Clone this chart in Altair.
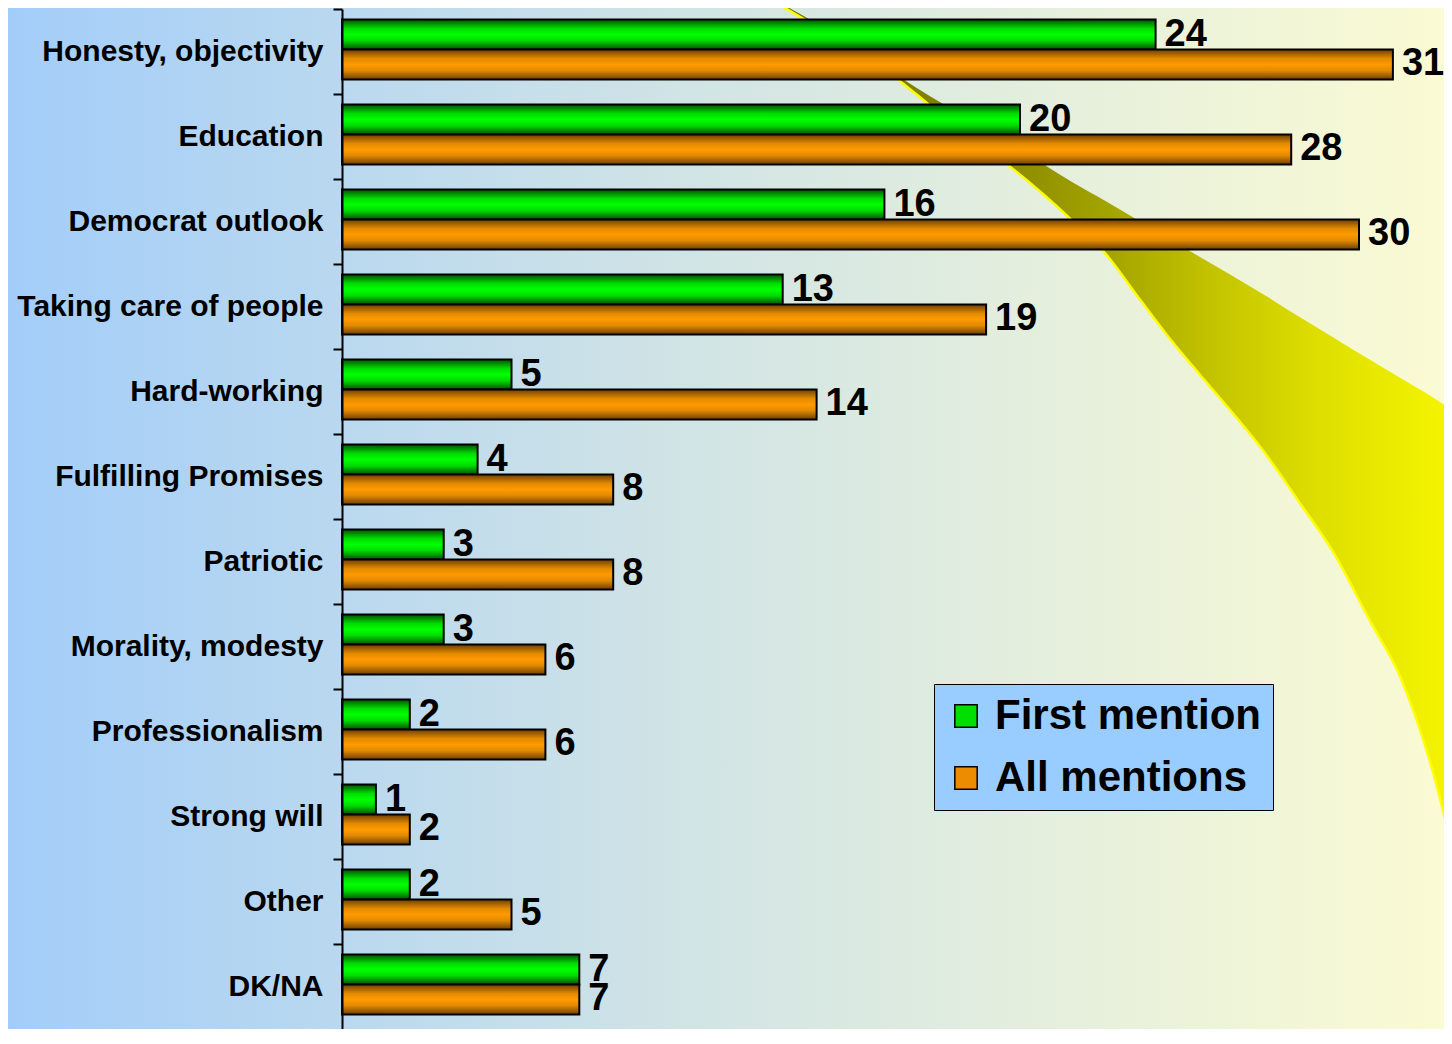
import altair as alt
import pandas as pd

# ---------------- data ----------------
categories = [
    "Honesty, objectivity", "Education", "Democrat outlook", "Taking care of people",
    "Hard-working", "Fulfilling Promises", "Patriotic", "Morality, modesty",
    "Professionalism", "Strong will", "Other", "DK/NA",
]
first_mention = [24, 20, 16, 13, 5, 4, 3, 3, 2, 1, 2, 7]
all_mentions = [31, 28, 30, 19, 14, 8, 8, 6, 6, 2, 5, 7]
series_names = ["First mention", "All mentions"]

# decorative swoosh outline (reference pixel space)
swoosh_x = [775, 810, 860, 900, 928, 970, 1012, 1045, 1072, 1105, 1140, 1167, 1200, 1267, 1300, 1333, 1370, 1400, 1433, 1452]
swoosh_top = [0, 20, 52, 78, 96, 121, 146, 167, 184, 203, 224, 240, 260, 300, 321, 341, 364, 382, 402, 415]
swoosh_bot = [2, 23, 55, 82, 105, 137, 170, 198, 223, 256, 303, 339, 379, 461, 509, 558, 628, 684, 781, 857]

rows = []
for c, f, a in zip(categories, first_mention, all_mentions):
    rows.append({"cat": c, "series": series_names[0], "value": f})
    rows.append({"cat": c, "series": series_names[1], "value": a})
df = pd.DataFrame(rows)
swdf = pd.DataFrame({"sx": swoosh_x, "stop": swoosh_top, "sbot": swoosh_bot})

# ---------------- layout ----------------
PAD_L, PAD_T = 334, 1
PW, PH = 1436 - PAD_L, 1020
XMAX = PW / 33.9
FONT = "Liberation Sans"


def vgrad(dark, mid, bright):
    return alt.LinearGradient(
        gradient="linear", x1=0, y1=0, x2=0, y2=1,
        stops=[
            alt.GradientStop(offset=0, color=dark),
            alt.GradientStop(offset=0.3, color=mid),
            alt.GradientStop(offset=0.5, color=bright),
            alt.GradientStop(offset=0.7, color=mid),
            alt.GradientStop(offset=1, color=dark),
        ],
    )


green_grad = vgrad("#004f00", "#00dc00", "#00ff00")
orange_grad = vgrad("#6e3e00", "#e28a00", "#ff9a00")

bg_grad = alt.LinearGradient(
    gradient="linear", x1=0, y1=0, x2=1, y2=0,
    stops=[
        alt.GradientStop(offset=0, color="#a3cdf9"),
        alt.GradientStop(offset=0.45, color="#cfe3e6"),
        alt.GradientStop(offset=1, color="#fbfbd3"),
    ],
)
sw_grad = alt.LinearGradient(
    gradient="linear", x1=0, y1=0, x2=1, y2=0,
    stops=[
        alt.GradientStop(offset=0, color="#6e6e00"),
        alt.GradientStop(offset=0.35, color="#8c8c00"),
        alt.GradientStop(offset=0.5, color="#a5a500"),
        alt.GradientStop(offset=0.65, color="#c4c400"),
        alt.GradientStop(offset=0.8, color="#dede00"),
        alt.GradientStop(offset=1, color="#f5f500"),
    ],
)

# ---------------- decoration ----------------
bg = alt.Chart(alt.Data(values=[{}])).mark_rect(color=bg_grad).encode(
    x=alt.value(-PAD_L), x2=alt.value(PW + 10), y=alt.value(-PAD_T - 1), y2=alt.value(PH + 10)
)
sx = alt.X("sx:Q", scale=alt.Scale(domain=[342, 342 + PW], nice=False, zero=False), axis=None)
sy_scale = alt.Scale(domain=[9, 1041], reverse=True, nice=False, zero=False)
sw_area = alt.Chart(swdf).mark_area(color=sw_grad, interpolate="monotone").encode(
    x=sx, y=alt.Y("stop:Q", scale=sy_scale, axis=None), y2="sbot:Q"
)
sw_line = alt.Chart(swdf).mark_line(color="#ffff00", strokeWidth=2.5, interpolate="monotone").encode(
    x=sx, y=alt.Y("sbot:Q", scale=sy_scale, axis=None)
)
deco = alt.layer(bg, sw_area, sw_line)

# ---------------- main chart ----------------
y_enc = alt.Y(
    "cat:N", sort=categories, title=None,
    scale=alt.Scale(paddingInner=0, paddingOuter=0),
    axis=alt.Axis(
        orient="left", zindex=1,
        bandPosition=0, tickSize=9, tickWidth=2, tickColor="black",
        domainColor="black", domainWidth=2, labelFont=FONT, labelFontSize=30,
        labelFontWeight="bold", labelColor="black", labelPadding=10, labelLimit=400, grid=False,
    ),
)
x_enc = alt.X("value:Q", scale=alt.Scale(domain=[0, XMAX], nice=False, zero=True), axis=None)
yoff = alt.YOffset(
    "series:N", sort=series_names,
    scale=alt.Scale(domain=series_names, paddingInner=0, paddingOuter=0.4167, align=0.42),
)

bars_g = alt.Chart(df).transform_filter(alt.datum.series == series_names[0]).mark_bar(
    color=green_grad, stroke="black", strokeWidth=2
).encode(x=x_enc, y=y_enc, yOffset=yoff)
bars_o = alt.Chart(df).transform_filter(alt.datum.series == series_names[1]).mark_bar(
    color=orange_grad, stroke="black", strokeWidth=2
).encode(x=x_enc, y=y_enc, yOffset=yoff)

texts = alt.Chart(df).mark_text(
    align="left", baseline="middle", dx=9, font=FONT, fontSize=38, fontWeight="bold", color="black"
).encode(x=x_enc, y=y_enc, yOffset=yoff, text="value:Q")

legend_layer = alt.Chart(df).mark_square(opacity=0).encode(
    x=x_enc, y=y_enc,
    color=alt.Color(
        "series:N", sort=series_names,
        scale=alt.Scale(domain=series_names, range=["#00e000", "#ee8c00"]),
        legend=alt.Legend(
            title=None, orient="none", legendX=592, legendY=675,
            fillColor="#99ccff", strokeColor="black", padding=11, rowPadding=20,
            symbolType="square", symbolSize=500, symbolStrokeColor="black",
            symbolStrokeWidth=1.5, symbolOpacity=1,
            labelFont=FONT, labelFontSize=42, labelFontWeight="bold", labelColor="black",
            labelOffset=8, labelLimit=500,
        ),
    ),
)

main = alt.layer(bars_g, bars_o, texts, legend_layer)

chart = (
    alt.layer(deco, main)
    .resolve_scale(x="independent", y="independent")
    .properties(
        width=PW, height=PH,
        padding={"left": PAD_L, "top": PAD_T, "right": 0, "bottom": 0},
        autosize=alt.AutoSizeParams(type="none"),
    )
    .configure_view(stroke=None)
    .configure(font=FONT)
)

chart.save("out.html", embed_options={"renderer": "svg", "actions": False})
